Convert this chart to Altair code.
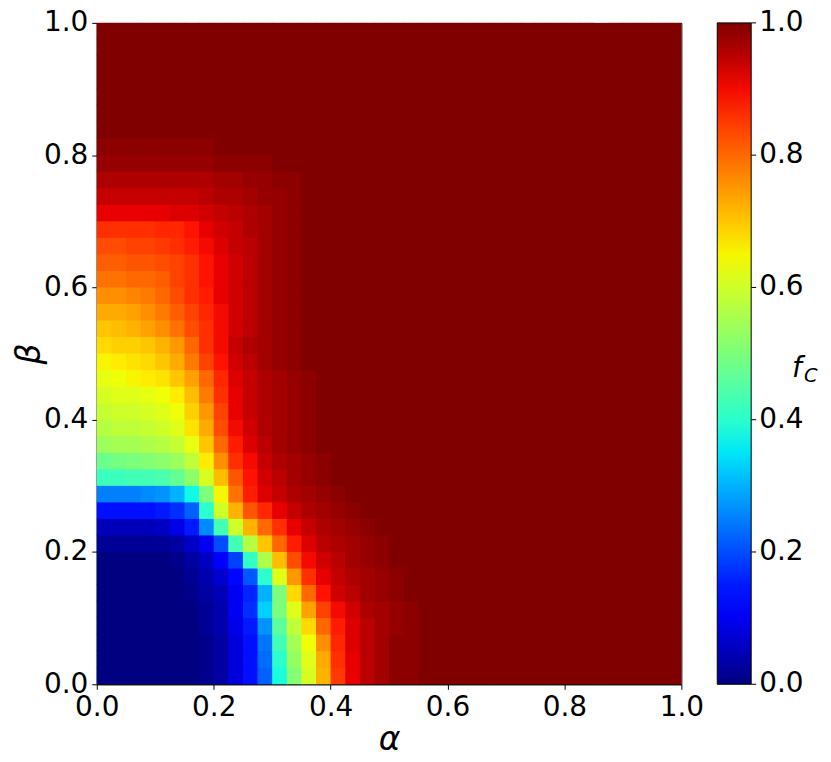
import altair as alt
import numpy as np
import pandas as pd

# f_C on a 40 x 40 grid (cell size 0.025); rows go from beta=0 (bottom) upward,
# each row lists alpha cells from alpha=0; cells not listed are 1.0 (dark red)
fc_rows = [
    [0, 0, 0, 0, 0, 0, 0, 0.01, 0.03, 0.08, 0.14, 0.22, 0.38, 0.51, 0.61, 0.72, 0.85, 0.91, 0.95, 0.97, 0.99, 0.99],
    [0, 0, 0, 0, 0, 0, 0, 0.01, 0.03, 0.08, 0.14, 0.23, 0.40, 0.53, 0.62, 0.73, 0.86, 0.91, 0.95, 0.97, 0.99, 0.99],
    [0, 0, 0, 0, 0, 0, 0, 0.01, 0.03, 0.08, 0.14, 0.24, 0.43, 0.55, 0.64, 0.76, 0.87, 0.92, 0.95, 0.97, 0.99, 0.99],
    [0, 0, 0, 0, 0, 0, 0, 0.02, 0.04, 0.09, 0.15, 0.27, 0.46, 0.58, 0.68, 0.80, 0.88, 0.92, 0.95, 0.97, 0.98, 0.99],
    [0, 0, 0, 0, 0, 0, 0, 0.02, 0.04, 0.10, 0.17, 0.33, 0.50, 0.62, 0.74, 0.84, 0.90, 0.93, 0.96, 0.97, 0.98, 0.99],
    [0, 0, 0, 0, 0, 0, 0.01, 0.03, 0.05, 0.10, 0.16, 0.30, 0.50, 0.68, 0.80, 0.89, 0.93, 0.95, 0.97, 0.98, 0.99],
    [0, 0, 0, 0, 0, 0, 0.02, 0.04, 0.07, 0.13, 0.21, 0.40, 0.62, 0.75, 0.86, 0.91, 0.94, 0.96, 0.97, 0.98, 0.99],
    [0, 0, 0, 0, 0, 0.01, 0.03, 0.06, 0.11, 0.19, 0.41, 0.56, 0.71, 0.83, 0.90, 0.93, 0.95, 0.97, 0.98, 0.99],
    [0.02, 0.02, 0.02, 0.02, 0.02, 0.03, 0.06, 0.10, 0.20, 0.43, 0.57, 0.70, 0.80, 0.88, 0.92, 0.95, 0.96, 0.97, 0.98, 0.99],
    [0.05, 0.05, 0.05, 0.05, 0.06, 0.09, 0.15, 0.26, 0.43, 0.60, 0.72, 0.80, 0.86, 0.91, 0.94, 0.96, 0.97, 0.98, 0.99],
    [0.14, 0.14, 0.14, 0.14, 0.15, 0.17, 0.22, 0.40, 0.60, 0.72, 0.82, 0.87, 0.91, 0.94, 0.96, 0.97, 0.98, 0.99],
    [0.25, 0.25, 0.25, 0.26, 0.27, 0.30, 0.37, 0.50, 0.65, 0.79, 0.88, 0.92, 0.94, 0.96, 0.97, 0.98, 0.99],
    [0.42, 0.42, 0.43, 0.43, 0.44, 0.47, 0.52, 0.61, 0.71, 0.82, 0.89, 0.93, 0.95, 0.97, 0.98, 0.99],
    [0.48, 0.49, 0.50, 0.51, 0.52, 0.54, 0.58, 0.66, 0.76, 0.86, 0.90, 0.94, 0.96, 0.97, 0.98, 0.99],
    [0.54, 0.55, 0.55, 0.56, 0.57, 0.59, 0.63, 0.70, 0.80, 0.88, 0.92, 0.95, 0.97, 0.98, 0.99],
    [0.57, 0.58, 0.58, 0.59, 0.60, 0.62, 0.67, 0.73, 0.83, 0.90, 0.93, 0.96, 0.97, 0.98, 0.99],
    [0.59, 0.60, 0.60, 0.61, 0.62, 0.64, 0.69, 0.75, 0.84, 0.91, 0.94, 0.96, 0.97, 0.98, 0.99],
    [0.61, 0.62, 0.62, 0.63, 0.64, 0.66, 0.71, 0.78, 0.86, 0.91, 0.94, 0.96, 0.97, 0.98, 0.99],
    [0.63, 0.64, 0.65, 0.66, 0.67, 0.70, 0.74, 0.80, 0.87, 0.92, 0.94, 0.96, 0.97, 0.98, 0.99],
    [0.65, 0.66, 0.67, 0.68, 0.70, 0.73, 0.78, 0.84, 0.89, 0.93, 0.95, 0.97, 0.98, 0.99],
    [0.68, 0.69, 0.69, 0.70, 0.72, 0.75, 0.80, 0.86, 0.90, 0.94, 0.96, 0.97, 0.98, 0.99],
    [0.70, 0.71, 0.72, 0.74, 0.76, 0.79, 0.83, 0.86, 0.90, 0.93, 0.95, 0.97, 0.98, 0.99],
    [0.73, 0.73, 0.74, 0.76, 0.78, 0.81, 0.84, 0.87, 0.90, 0.93, 0.95, 0.97, 0.98, 0.99],
    [0.76, 0.76, 0.77, 0.78, 0.80, 0.83, 0.86, 0.88, 0.91, 0.93, 0.95, 0.97, 0.98, 0.99],
    [0.79, 0.79, 0.80, 0.80, 0.81, 0.84, 0.86, 0.89, 0.91, 0.93, 0.95, 0.97, 0.98, 0.99],
    [0.81, 0.81, 0.82, 0.82, 0.83, 0.84, 0.86, 0.89, 0.91, 0.93, 0.95, 0.97, 0.98, 0.99],
    [0.83, 0.83, 0.84, 0.84, 0.85, 0.86, 0.88, 0.90, 0.92, 0.94, 0.95, 0.97, 0.98, 0.99],
    [0.86, 0.86, 0.86, 0.86, 0.87, 0.87, 0.89, 0.91, 0.93, 0.94, 0.96, 0.97, 0.98, 0.99],
    [0.91, 0.91, 0.91, 0.91, 0.91, 0.92, 0.92, 0.93, 0.94, 0.95, 0.96, 0.97, 0.98, 0.99],
    [0.94, 0.94, 0.94, 0.94, 0.94, 0.94, 0.94, 0.95, 0.96, 0.96, 0.97, 0.98, 0.98, 0.99],
    [0.96, 0.96, 0.96, 0.96, 0.96, 0.96, 0.96, 0.96, 0.97, 0.97, 0.98, 0.98, 0.99, 0.99],
    [0.98, 0.98, 0.98, 0.98, 0.98, 0.98, 0.98, 0.98, 0.99, 0.99, 0.99, 0.99],
    [0.99, 0.99, 0.99, 0.99, 0.99, 0.99, 0.99, 0.99],
    [], [], [], [], [], [], [],
]

n_cells = 40
alpha_edges = np.linspace(0.0, 1.0, n_cells + 1)
beta_edges = np.linspace(0.0, 1.0, n_cells + 1)
seam = 0.0015  # small overlap so neighbouring cells leave no hairline gaps

axis_ticks = [0.0, 0.2, 0.4, 0.6, 0.8, 1.0]
axis_labels = ["0.0", "0.2", "0.4", "0.6", "0.8", "1.0"]

# matplotlib "jet" colour map stops
jet_stops = [0.0, 0.11, 0.125, 0.34, 0.35, 0.375, 0.64, 0.65, 0.66, 0.89, 0.91, 1.0]
jet_colors = ["#000080", "#0000ff", "#0000ff", "#00dbff", "#00e6f7", "#15ffe2",
              "#efff08", "#f7f600", "#ffec00", "#ff1300", "#e80000", "#800000"]

records = []
for j, row in enumerate(fc_rows):
    full = list(row) + [1.0] * (n_cells - len(row))
    for k, v in enumerate(full):
        records.append({"a0": alpha_edges[k], "a1": min(1.0, alpha_edges[k + 1] + seam),
                        "b0": beta_edges[j], "b1": min(1.0, beta_edges[j + 1] + seam), "fc": v})
cells = pd.DataFrame(records)
ticks_df = pd.DataFrame({"t": axis_ticks, "lab": axis_labels})

W, H = 586, 663
FONT = "DejaVu Sans"
xs = alt.Scale(domain=[0, 1], nice=False, zero=False)
ys = alt.Scale(domain=[0, 1], nice=False, zero=False)
cscale = alt.Scale(domain=jet_stops, range=jet_colors, interpolate="rgb", clamp=True)

heat = alt.Chart(cells).mark_rect(strokeWidth=0).encode(
    x=alt.X("a0:Q", scale=xs,
            axis=alt.Axis(values=axis_ticks, format=".1f", title="α", labelFlush=False,
                          grid=False, tickSize=5, labelPadding=4, titlePadding=2)),
    x2="a1:Q",
    y=alt.Y("b0:Q", scale=ys,
            axis=alt.Axis(values=axis_ticks, format=".1f", title="β", labelFlush=False,
                          grid=False, tickSize=5, labelPadding=4, titlePadding=-3)),
    y2="b1:Q",
    color=alt.Color("fc:Q", scale=cscale, title=None,
                    legend=alt.Legend(type="gradient", orient="none", legendX=W + 36, legendY=0,
                                      direction="vertical", gradientLength=H,
                                      gradientThickness=34, values=axis_ticks,
                                      labelExpr="''", labelFontSize=1, padding=0,
                                      gradientStrokeColor="black", gradientStrokeWidth=1)),
)

cb_ticks = alt.Chart(ticks_df).mark_rule(color="black", strokeWidth=1).encode(
    y=alt.Y("t:Q", scale=ys),
    x=alt.value(W + 70), x2=alt.value(W + 75),
)
cb_text = alt.Chart(ticks_df).mark_text(align="left", baseline="middle", font=FONT,
                                         fontSize=28, color="black").encode(
    y=alt.Y("t:Q", scale=ys),
    x=alt.value(W + 78),
    text="lab:N",
)
f_label = alt.Chart(pd.DataFrame({"s": ["f"]})).mark_text(
    align="left", baseline="alphabetic", font=FONT, fontSize=28, fontStyle="italic",
    color="black").encode(x=alt.value(W + 111), y=alt.value(355), text="s:N")
c_label = alt.Chart(pd.DataFrame({"s": ["C"]})).mark_text(
    align="left", baseline="alphabetic", font=FONT, fontSize=19.5, fontStyle="italic",
    color="black").encode(x=alt.value(W + 123), y=alt.value(360), text="s:N")

chart = alt.layer(heat, cb_ticks, cb_text, f_label, c_label).properties(
    width=W, height=H,
    autosize=alt.AutoSizeParams(type="none"),
    padding={"left": 89, "top": 14, "right": 142, "bottom": 76},
).configure(font=FONT).configure_view(
    stroke="black", strokeWidth=1
).configure_axis(
    labelFontSize=28, titleFontSize=33, titleFontStyle="italic", titleFontWeight="normal",
    labelColor="black", titleColor="black", domainColor="black", tickColor="black",
    labelFont=FONT, titleFont=FONT,
)

chart.save("out.html", embed_options={"renderer": "svg", "actions": False})
